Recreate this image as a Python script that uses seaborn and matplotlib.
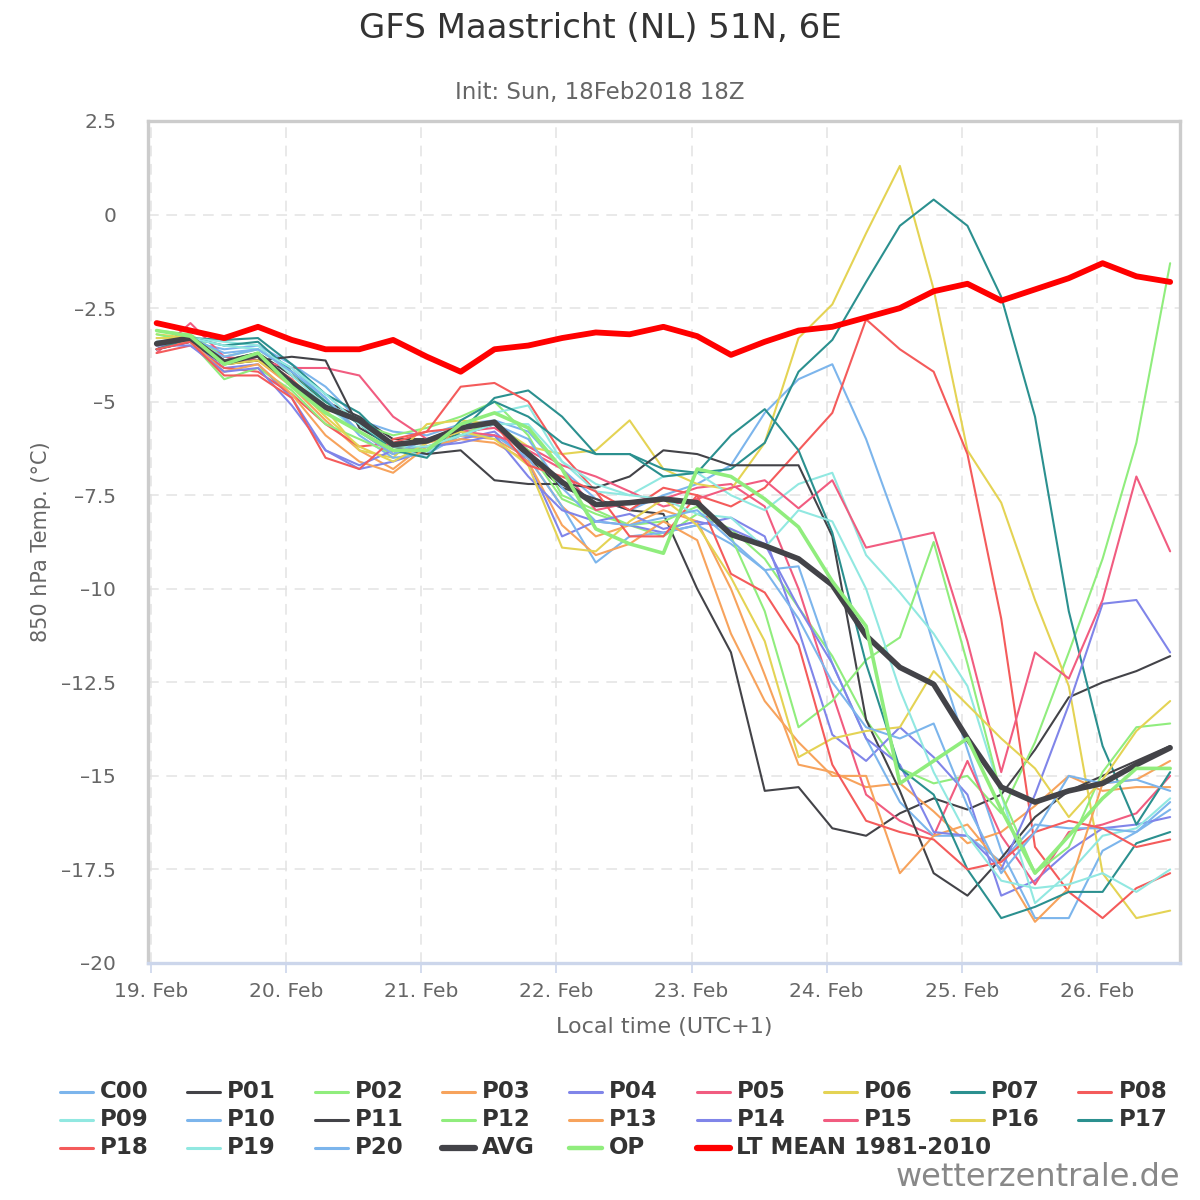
import matplotlib
matplotlib.use("Agg")
import matplotlib.pyplot as plt
import matplotlib.dates as mdates
from matplotlib.lines import Line2D
from matplotlib.ticker import FixedLocator, FuncFormatter
import numpy as np
import pandas as pd
import seaborn as sns

# ---------------- data ----------------
times = pd.date_range("2018-02-19 01:00", periods=31, freq="6h")

members = ["C00", "P01", "P02", "P03", "P04", "P05", "P06", "P07", "P08", "P09",
           "P10", "P11", "P12", "P13", "P14", "P15", "P16", "P17", "P18", "P19", "P20"]

C00 = [-3.5,-3.4,-3.6,-3.5,-4.0,-4.6,-5.5,-5.8,-5.9,-5.6,-5.5,-5.8,-6.8,-7.6,-7.9,-7.5,-7.2,-6.7,-5.3,-4.4,-4.0,-6.0,-8.5,-11.5,-14.3,-17.0,-18.8,-18.8,-17.0,-16.5,-15.9]
P01 = [-3.5,-3.3,-3.9,-3.7,-4.3,-5.0,-5.4,-6.0,-6.0,-5.9,-5.6,-6.5,-7.3,-7.6,-7.9,-8.0,-10.0,-11.7,-15.4,-15.3,-16.4,-16.6,-16.0,-15.6,-15.9,-15.5,-14.3,-12.9,-12.5,-12.2,-11.8]
P02 = [-3.1,-3.2,-3.8,-3.6,-4.2,-5.0,-5.6,-5.9,-5.7,-5.4,-5.0,-5.9,-7.5,-7.9,-8.3,-8.6,-8.0,-8.4,-9.2,-10.5,-11.8,-13.5,-14.8,-15.2,-15.0,-16.0,-14.1,-11.7,-9.2,-6.1,-1.3]
P03 = [-3.4,-3.3,-4.0,-3.9,-4.6,-5.5,-6.3,-6.8,-6.1,-5.9,-6.0,-6.5,-7.8,-8.6,-8.3,-7.9,-8.2,-10.0,-12.3,-14.7,-14.9,-15.3,-15.2,-15.95,-16.8,-16.5,-15.8,-15.0,-15.4,-15.3,-15.3]
P04 = [-3.6,-3.4,-4.1,-4.0,-4.9,-6.3,-6.8,-6.6,-6.3,-6.0,-5.8,-6.6,-8.6,-8.2,-8.3,-8.5,-8.3,-8.1,-8.6,-11.1,-13.9,-14.6,-13.7,-14.5,-15.5,-18.2,-17.8,-17.0,-16.4,-16.3,-16.1]
P05 = [-3.7,-2.9,-3.8,-3.9,-4.1,-4.1,-4.3,-5.4,-6.0,-5.8,-5.7,-6.3,-6.8,-7.9,-7.7,-7.6,-7.3,-7.2,-7.8,-10.0,-12.8,-15.5,-16.2,-16.6,-14.6,-16.6,-17.9,-16.5,-16.3,-16.0,-15.0]
P06 = [-3.2,-3.3,-3.9,-3.8,-4.4,-5.2,-6.3,-6.5,-5.6,-5.5,-5.6,-6.2,-6.4,-6.3,-5.5,-6.8,-7.2,-7.35,-6.1,-3.3,-2.4,-0.5,1.3,-2.0,-6.3,-7.7,-10.3,-12.6,-17.6,-18.8,-18.6]
P07 = [-3.6,-3.3,-3.35,-3.3,-4.0,-4.8,-5.3,-6.2,-6.4,-5.8,-4.9,-4.7,-5.4,-6.4,-6.4,-6.8,-6.9,-6.8,-6.1,-4.2,-3.35,-1.8,-0.3,0.4,-0.3,-2.2,-5.4,-10.6,-14.2,-16.3,-14.9]
P08 = [-3.7,-3.5,-4.1,-4.2,-4.8,-5.6,-6.2,-6.1,-5.8,-4.6,-4.5,-5.0,-6.4,-7.4,-7.9,-7.3,-7.5,-7.8,-7.3,-6.3,-5.3,-2.8,-3.6,-4.2,-6.4,-10.8,-16.9,-18.1,-18.8,-18.0,-17.6]
P09 = [-3.3,-3.3,-3.4,-3.5,-4.3,-5.1,-5.8,-6.3,-6.4,-5.6,-5.3,-5.1,-6.6,-7.4,-7.5,-7.0,-6.9,-7.5,-7.9,-7.2,-6.9,-9.1,-10.1,-11.2,-12.6,-15.5,-18.4,-17.6,-16.6,-16.4,-15.6]
P10 = [-3.5,-3.4,-3.8,-3.6,-4.1,-4.9,-5.9,-6.5,-6.4,-5.9,-5.9,-6.5,-7.8,-9.3,-8.6,-8.5,-8.3,-8.8,-9.5,-9.4,-12.0,-14.0,-15.7,-16.6,-16.6,-17.3,-16.3,-16.4,-16.4,-16.5,-15.7]
P11 = [-3.6,-3.4,-4.0,-3.9,-3.8,-3.9,-5.7,-6.2,-6.4,-6.3,-7.1,-7.2,-7.2,-7.3,-7.0,-6.3,-6.4,-6.7,-6.7,-6.7,-8.6,-13.5,-15.4,-17.6,-18.2,-17.2,-16.1,-15.4,-15.0,-14.6,-14.2]
P12 = [-3.2,-3.4,-4.4,-4.1,-4.7,-5.6,-6.0,-6.4,-6.2,-5.9,-5.5,-6.3,-7.6,-8.0,-8.3,-8.2,-7.8,-8.6,-10.6,-13.7,-13.0,-11.9,-11.3,-8.75,-12.0,-15.5,-17.6,-16.9,-14.9,-13.7,-13.6]
P13 = [-3.5,-3.4,-4.2,-4.0,-4.8,-5.9,-6.6,-6.9,-6.2,-6.0,-6.1,-6.6,-8.3,-9.1,-8.8,-8.2,-8.7,-11.2,-13.0,-14.1,-15.0,-15.0,-17.6,-16.6,-16.3,-17.4,-18.9,-18.0,-15.2,-15.1,-14.6]
P14 = [-3.5,-3.5,-4.2,-4.1,-5.1,-6.3,-6.7,-6.3,-6.2,-6.1,-5.9,-7.0,-7.9,-8.2,-8.0,-8.4,-8.2,-8.4,-8.8,-10.5,-12.0,-14.0,-14.7,-16.5,-16.6,-17.5,-15.5,-13.1,-10.4,-10.3,-11.7]
P15 = [-3.6,-3.3,-4.0,-3.8,-4.4,-5.3,-5.8,-6.4,-6.0,-5.8,-5.9,-6.2,-6.7,-7.0,-7.4,-7.8,-7.6,-7.3,-7.1,-7.85,-7.1,-8.9,-8.7,-8.5,-11.4,-14.9,-11.7,-12.4,-10.3,-7.0,-9.0]
P16 = [-3.3,-3.3,-4.0,-3.9,-4.5,-5.4,-6.2,-6.6,-6.1,-5.8,-6.0,-6.7,-8.9,-9.0,-8.2,-7.6,-8.3,-9.7,-11.4,-14.5,-14.0,-13.8,-13.7,-12.2,-13.1,-14.0,-14.8,-16.1,-15.1,-13.8,-13.0]
P17 = [-3.6,-3.3,-3.5,-3.4,-4.2,-5.0,-5.6,-6.3,-6.5,-5.5,-5.0,-5.4,-6.1,-6.4,-6.4,-7.0,-6.9,-5.9,-5.2,-6.3,-8.5,-12.0,-14.8,-15.5,-17.5,-18.8,-18.5,-18.1,-18.1,-16.8,-16.5]
P18 = [-3.6,-3.4,-4.3,-4.3,-4.9,-6.5,-6.8,-6.0,-5.8,-5.7,-5.6,-6.7,-7.0,-7.4,-8.6,-8.6,-7.5,-9.6,-10.1,-11.5,-14.7,-16.2,-16.5,-16.7,-17.5,-17.3,-16.5,-16.2,-16.4,-16.9,-16.7]
P19 = [-3.4,-3.3,-3.5,-3.6,-4.1,-4.8,-5.6,-6.2,-6.2,-5.9,-5.6,-5.6,-6.6,-7.2,-7.5,-7.6,-8.0,-8.1,-8.9,-7.9,-8.2,-10.0,-12.7,-14.9,-16.6,-17.8,-18.0,-17.9,-17.6,-18.1,-17.5]
P20 = [-3.4,-3.3,-3.7,-3.6,-4.2,-4.9,-5.8,-6.4,-6.0,-5.7,-5.6,-6.0,-7.3,-8.2,-8.3,-8.1,-7.9,-8.7,-9.5,-10.8,-12.5,-13.7,-14.0,-13.6,-15.8,-17.6,-16.5,-15.0,-15.2,-15.1,-15.4]

AVG = [-3.45,-3.3,-3.95,-3.75,-4.5,-5.15,-5.5,-6.15,-6.05,-5.7,-5.55,-6.4,-7.15,-7.75,-7.7,-7.6,-7.7,-8.55,-8.85,-9.2,-9.9,-11.25,-12.1,-12.55,-14.0,-15.3,-15.7,-15.4,-15.2,-14.7,-14.25]
OP = [-3.1,-3.25,-4.0,-3.7,-4.6,-5.3,-5.8,-6.3,-6.3,-5.6,-5.3,-5.7,-6.8,-8.4,-8.8,-9.05,-6.8,-7.0,-7.6,-8.35,-9.8,-11.0,-15.2,-14.6,-14.0,-15.9,-17.6,-16.6,-15.6,-14.8,-14.8]
LT_MEAN = [-2.9,-3.1,-3.3,-3.0,-3.35,-3.6,-3.6,-3.35,-3.8,-4.2,-3.6,-3.5,-3.3,-3.15,-3.2,-3.0,-3.25,-3.75,-3.4,-3.1,-3.0,-2.75,-2.5,-2.05,-1.85,-2.3,-2.0,-1.7,-1.3,-1.65,-1.8]

member_values = [C00, P01, P02, P03, P04, P05, P06, P07, P08, P09, P10,
                 P11, P12, P13, P14, P15, P16, P17, P18, P19, P20]

base_colors = ["#7cb5ec", "#434348", "#90ed7d", "#f7a35c", "#8085e9",
               "#f15c80", "#e4d354", "#2b908f", "#f45b5b", "#91e8e1"]
member_colors = {m: base_colors[i % 10] for i, m in enumerate(members)}

y_ticks = [2.5, 0, -2.5, -5, -7.5, -10, -12.5, -15, -17.5, -20]

title = "GFS Maastricht (NL) 51N, 6E"
subtitle = "Init: Sun, 18Feb2018 18Z"
y_label = "850 hPa Temp. (°C)"
x_label = "Local time (UTC+1)"

# ---------------- build long table ----------------
rows = []
for m, vals in zip(members, member_values):
    for t, v in zip(times, vals):
        rows.append((m, t, v))
df = pd.DataFrame(rows, columns=["member", "time", "value"])

# ---------------- figure ----------------
sns.set_theme(style="white")
plt.rcParams["font.family"] = ["DejaVu Sans"]

W, H = 1200, 1200
fig = plt.figure(figsize=(12, 12), dpi=100)
fig.patch.set_facecolor("white")
L, R, T, B = 148, 1180, 121, 963
ax = fig.add_axes([L / W, 1 - B / H, (R - L) / W, (B - T) / H])

sns.lineplot(data=df, x="time", y="value", hue="member", palette=member_colors,
             hue_order=members, estimator=None, sort=False, linewidth=1.5,
             legend=False, ax=ax, zorder=3)
sns.lineplot(x=times, y=AVG, color="#434348", linewidth=4.0, ax=ax, zorder=4)
sns.lineplot(x=times, y=OP, color="#90ed7d", linewidth=2.6, ax=ax, zorder=5)
sns.lineplot(x=times, y=LT_MEAN, color="#ff0000", linewidth=4.2, ax=ax, zorder=6)

ax.set_ylim(-20, 2.5)
ax.set_xlim(pd.Timestamp("2018-02-18 23:28"), pd.Timestamp("2018-02-26 14:45"))

ax.yaxis.set_major_locator(FixedLocator(y_ticks))
ax.yaxis.set_major_formatter(FuncFormatter(
    lambda v, p: ("\u2013" if v < 0 else "") + f"{abs(v):g}"))
ax.xaxis.set_major_locator(mdates.DayLocator())
ax.xaxis.set_major_formatter(mdates.DateFormatter("%d. %b"))

ax.grid(True, which="major", color="#e3e3e3", linewidth=1.1, linestyle=(0, (7, 5)))
ax.set_axisbelow(True)

for side in ["left", "right", "top"]:
    ax.spines[side].set_color("#cccccc")
    ax.spines[side].set_linewidth(2.4)
ax.spines["bottom"].set_color("#ccd6eb")
ax.spines["bottom"].set_linewidth(2.4)

ax.tick_params(axis="y", length=0, pad=23, labelsize=14.5, labelcolor="#666666")
ax.tick_params(axis="x", length=7, width=1.2, color="#ccd6eb", pad=7,
               labelsize=14.5, labelcolor="#666666", bottom=True)

ax.set_xlabel(x_label, fontsize=16, color="#666666")
ax.set_ylabel(y_label, fontsize=15, color="#666666")
ax.xaxis.set_label_coords(0.5, -0.064)
ax.yaxis.set_label_coords(-0.094, 0.5)

fig.text(0.5, 1 - 28 / H, title, ha="center", va="center", fontsize=24.5, color="#333333")
fig.text(0.5, 1 - 92 / H, subtitle, ha="center", va="center", fontsize=16.5, color="#666666")

# ---------------- legend (row-major, 9 columns) ----------------
legend_items = [(m, member_colors[m], 2.2) for m in members] + [
    ("AVG", "#434348", 4.5), ("OP", "#90ed7d", 3.2), ("LT MEAN 1981-2010", "#ff0000", 4.5)]
row_y = [1092, 1120, 1148]
for k, (lab, col, lw) in enumerate(legend_items):
    r, c = divmod(k, 9)
    x0 = 60 + 127.3 * c
    y = row_y[r]
    fig.add_artist(Line2D([x0 / W, (x0 + 33) / W], [1 - y / H, 1 - y / H],
                          color=col, linewidth=lw, transform=fig.transFigure))
    fig.text((x0 + 40) / W, 1 - y / H, lab, ha="left", va="center",
             fontsize=16.5, fontweight="bold", color="#333333")

fig.text(1180 / W, 1 - 1178 / H, "wetterzentrale.de", ha="right", va="center",
         fontsize=23, color="#888888")

fig.savefig("out.png", dpi=100, facecolor="white")
